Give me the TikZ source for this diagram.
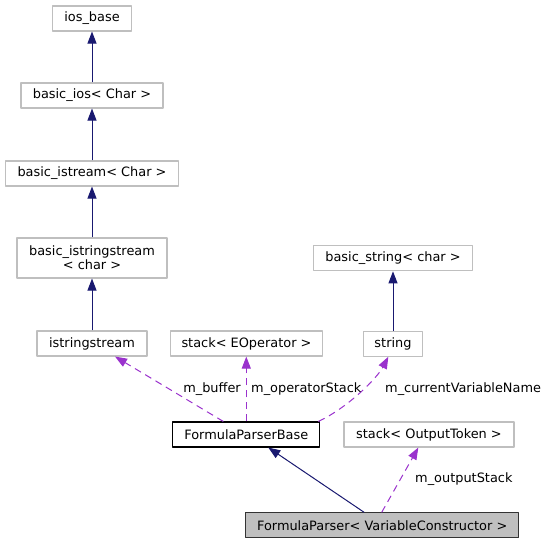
\documentclass[tikz,border=0pt]{standalone}
\usepackage{fontspec}
\setmainfont{DejaVu Sans}
\usetikzlibrary{arrows.meta}
\definecolor{edgeblue}{HTML}{191970}
\definecolor{edgeorchid}{HTML}{9A32CD}
\definecolor{boxgrey}{HTML}{BFBFBF}
\begin{document}
\begin{tikzpicture}[x=1pt, y=-1pt, font=\fontsize{12.9}{13.8}\selectfont, line join=round,
	cls/.style={draw=boxgrey, line width=1.1pt, inner sep=0pt, minimum height=25pt, align=center},
	cur/.style={cls, draw=black},
	main/.style={cls, draw=black!80, fill=boxgrey},
	inh/.style={edgeblue, line width=1pt, -{Triangle[length=12pt, width=9pt]}},
	use/.style={edgeorchid, line width=1pt, dash pattern=on 7pt off 5pt, -{Triangle[length=12pt, width=9pt]}},
	lbl/.style={inner sep=0pt}]
	\useasboundingbox (0,0) rectangle (547,544);
	% left column: stream classes
	\node[cls, minimum width=79] (iosbase) at (92,18.5) {ios\_base};
	\node[cls, minimum width=142] (basicios) at (92,95.5) {basic\_ios< Char >};
	\node[cls, minimum width=173] (basicistream) at (92,173.5) {basic\_istream< Char >};
	\node[cls, minimum width=150, minimum height=40] (basicisstream) at (92,258) {basic\_istringstream\\< char >};
	\node[cls, minimum width=110] (istr) at (92,343.5) {istringstream};
	% members
	\node[cls, minimum width=152] (stackop) at (246.5,343.5) {stack< EOperator >};
	\node[cls, minimum width=159] (basicstr) at (393,258.3) {basic\_string< char >};
	\node[cls, minimum width=59] (str) at (393,343.7) {string};
	\node[cur, minimum width=147] (fpb) at (246.3,434.5) {FormulaParserBase};
	\node[cls, minimum width=170] (stackout) at (429,434.5) {stack< OutputToken >};
	\node[main, minimum width=273] (fp) at (382.2,525.4) {FormulaParser< VariableConstructor >};
	% inheritance
	\draw[inh] (basicios.north) -- (iosbase.south);
	\draw[inh] (basicistream.north) -- (basicios.south);
	\draw[inh] (basicisstream.north) -- (basicistream.south);
	\draw[inh] (istr.north) -- (basicisstream.south);
	\draw[inh] (str.north) -- (basicstr.south);
	\draw[inh] ([xshift=-18]fp.north) -- ([xshift=22]fpb.south);
	% usage
	\draw[use] ([xshift=-23]fpb.north) -- ([xshift=23]istr.south);
	\draw[use] (fpb.north) -- (fpb.north |- stackop.south);
	\draw[use] ([xshift=-2]fpb.north east) .. controls +(30,-14) and +(-11,21) .. ([xshift=-4.7]str.south);
	\draw[use] ([xshift=-0.5]fp.north) -- ([xshift=-10.7]stackout.south);
	\node[lbl, anchor=base east] (lbuf) at (241,392.5) {m\_buffer};
	\node[lbl, anchor=base west] (lop) at (251,392.5) {m\_operatorStack};
	\node[lbl, anchor=base west] (lcur) at (385,392.5) {m\_currentVariableName};
	\node[lbl, anchor=base west] (lout) at (415,482.7) {m\_outputStack};
\end{tikzpicture}
\end{document}
